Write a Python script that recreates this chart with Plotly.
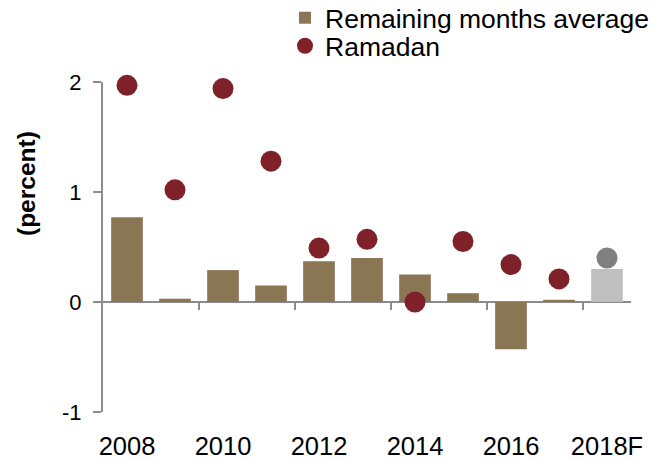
import plotly.graph_objects as go

categories = ["2008", "2009", "2010", "2011", "2012", "2013", "2014", "2015", "2016", "2017", "2018F"]
remaining_avg = [0.77, 0.03, 0.29, 0.15, 0.37, 0.40, 0.25, 0.08, -0.43, 0.02, 0.30]
ramadan = [1.97, 1.02, 1.94, 1.28, 0.49, 0.57, 0.00, 0.55, 0.34, 0.21, 0.40]
tick_labels = ["2008", "2010", "2012", "2014", "2016", "2018F"]
y_ticks = [-1, 0, 1, 2]
y_tick_text = ["-1", "0", "1", "2"]
y_title = "(percent)"

BROWN = "#8B7654"
RED = "#7F2129"
bar_colors = [BROWN] * (len(categories) - 1) + ["#BFBFBF"]
dot_colors = [RED] * (len(categories) - 1) + ["#808080"]
AXIS = "#8C8C8C"
FONT = "Liberation Sans, Arial, sans-serif"

PLOT_L, PLOT_T, PLOT_W, PLOT_H = 103, 82, 528, 330


def px_x(x):
    return (x - PLOT_L) / PLOT_W


def px_y(y):
    return 1 + (PLOT_T - y) / PLOT_H


fig = go.Figure()
fig.add_trace(go.Bar(
    x=categories, y=remaining_avg, name="Remaining months average",
    marker=dict(color=bar_colors, line=dict(width=0)),
    legend="legend",
))
fig.add_trace(go.Scatter(
    x=categories, y=ramadan, name="Ramadan", mode="markers",
    marker=dict(color=dot_colors, size=21, line=dict(width=0)),
    cliponaxis=False, legend="legend2",
))
# empty helper trace so the zero-crossing axis (xaxis2) is drawn
fig.add_trace(go.Scatter(
    x=[], y=[], xaxis="x2", yaxis="y", mode="markers",
    showlegend=False, hoverinfo="skip",
))

legend_common = dict(
    xanchor="left", yanchor="middle",
    font=dict(size=26.5, family=FONT),
    bgcolor="rgba(0,0,0,0)",
)

fig.update_layout(
    width=664, height=459,
    margin=dict(l=PLOT_L, r=664 - PLOT_L - PLOT_W, t=PLOT_T, b=459 - PLOT_T - PLOT_H, autoexpand=False),
    paper_bgcolor="white", plot_bgcolor="white",
    bargap=0.34,
    font=dict(family=FONT, color="black"),
    showlegend=True,
    legend=dict(x=px_x(285), y=px_y(18), **legend_common),
    legend2=dict(x=px_x(285), y=px_y(46), **legend_common),
    xaxis=dict(
        type="category", range=[-0.5, 10.5],
        tickmode="array", tickvals=tick_labels, ticktext=tick_labels,
        showline=False, showgrid=False, zeroline=False,
        ticks="", ticklabelstandoff=16,
        tickfont=dict(size=25.5, family=FONT),
    ),
    xaxis2=dict(
        overlaying="x", anchor="free", position=1 / 3,
        range=[-0.5, 10.5], type="linear",
        tickmode="array", tickvals=[1.5, 3.5, 5.5, 7.5, 9.5],
        showticklabels=False, showgrid=False, zeroline=False,
        showline=True, linecolor=AXIS, linewidth=2,
        ticks="outside", ticklen=7, tickwidth=2, tickcolor=AXIS,
        layer="below traces",
    ),
    yaxis=dict(
        range=[-1, 2], tickmode="array", tickvals=y_ticks, ticktext=y_tick_text,
        showgrid=False, zeroline=False,
        showline=True, linecolor=AXIS, linewidth=2,
        ticks="outside", ticklen=8, tickwidth=2, tickcolor=AXIS,
        tickfont=dict(size=22, family=FONT),
        ticklabelstandoff=7,
    ),
    annotations=[dict(
        text="<b>" + y_title + "</b>", textangle=-90,
        xref="paper", yref="paper", x=px_x(26), y=px_y(184),
        xanchor="center", yanchor="middle", showarrow=False,
        font=dict(size=24.5, family=FONT, color="black"),
    )],
)

fig.write_html("out.html", config={"displayModeBar": False},
               post_script="document.body.style.margin='0';")
